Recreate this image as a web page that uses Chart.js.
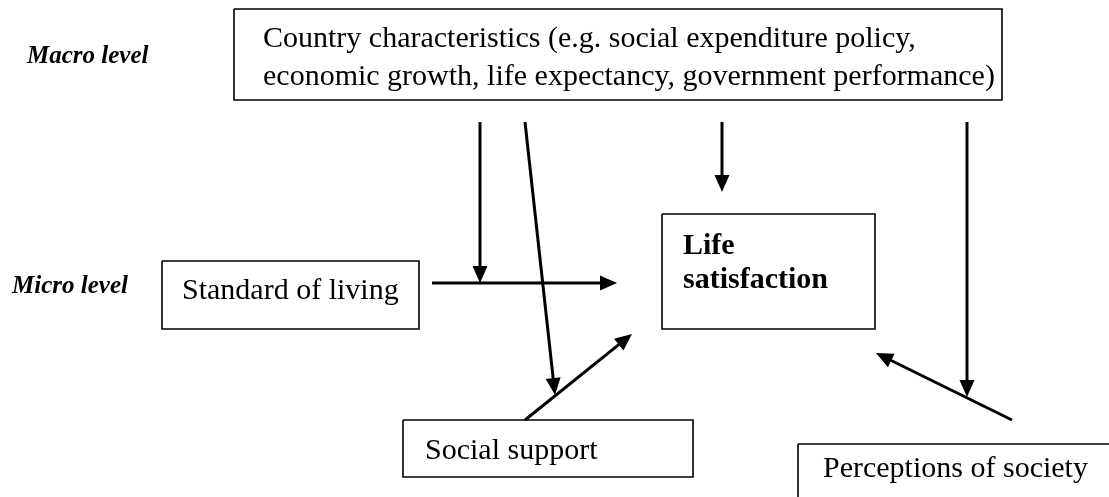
<!DOCTYPE html>
<html>
<head>
<meta charset="utf-8">
<script src="https://cdn.jsdelivr.net/npm/chart.js@4/dist/chart.umd.min.js"></script>
<style>
html,body{margin:0;padding:0;background:#fff;overflow:hidden}
#c{display:block}
</style>
</head>
<body>
<canvas id="c" width="1109" height="497"></canvas>
<script>
// ---- Diagram data (in diagram units = reference pixel grid) ----
const boxNames   = ["Country characteristics", "Standard of living", "Life satisfaction", "Social support", "Perceptions of society"];
const boxLeft    = [234, 162, 662, 403, 798];
const boxTop     = [9,   261, 214, 420, 444];
const boxRight   = [1002, 419, 875, 693, 1125];
const boxBottom  = [100, 329, 329, 477, 515];

const arrowNames = ["macro→interaction(SoL)", "macro→interaction(SS)", "macro→life", "macro→interaction(PoS)", "SoL→life", "SS→life", "PoS→life"];
const arrowX0 = [480, 525, 722, 967, 432, 525, 1012];
const arrowY0 = [122, 122, 122, 122, 283, 420, 420];
const arrowX1 = [480, 555, 722, 967, 617, 632, 876];
const arrowY1 = [283, 395, 192, 397, 283, 334, 353];

const textLines = [
  "Country characteristics (e.g. social expenditure policy,",
  "economic growth, life expectancy, government performance)",
  "Standard of living",
  "Life",
  "satisfaction",
  "Social support",
  "Perceptions of society",
  "Macro level",
  "Micro level"
];
const textX = [263, 263, 182, 683, 683, 425, 823, 27, 12];
const textY = [47, 85, 299, 254, 288, 459, 477, 63, 293];
const textStyle = ["n", "n", "n", "b", "b", "n", "n", "bi", "bi"];

// ---- Build datasets ----
const datasets = [];
boxNames.forEach((n, i) => {
  datasets.push({
    label: n,
    data: [
      {x: boxLeft[i], y: boxTop[i]},
      {x: boxRight[i], y: boxTop[i]},
      {x: boxRight[i], y: boxBottom[i]},
      {x: boxLeft[i], y: boxBottom[i]},
      {x: boxLeft[i], y: boxTop[i]}
    ],
    showLine: true, borderColor: "#000", borderWidth: 1.6,
    pointRadius: 0, fill: false, tension: 0, isBox: true
  });
});
arrowNames.forEach((n, i) => {
  datasets.push({
    label: n,
    data: [{x: arrowX0[i], y: arrowY0[i]}, {x: arrowX1[i], y: arrowY1[i]}],
    showLine: true, borderColor: "#000", borderWidth: 3,
    pointRadius: 0, fill: false, tension: 0, isArrow: true,
    borderCapStyle: "butt"
  });
});

const fonts = {
  n: "30px 'Liberation Serif', 'Times New Roman', serif",
  b: "bold 30px 'Liberation Serif', 'Times New Roman', serif",
  bi: "italic bold 25px 'Liberation Serif', 'Times New Roman', serif"
};

const HEAD_LEN = 17, HEAD_HALF = 7.5;

const arrowPlugin = {
  id: "arrowheads",
  afterDatasetsUpdate(chart) {
    chart.data.datasets.forEach((ds, di) => {
      if (!ds.isArrow) return;
      const meta = chart.getDatasetMeta(di);
      const pts = meta.data;
      const a = pts[pts.length - 2], b = pts[pts.length - 1];
      const ang = Math.atan2(b.y - a.y, b.x - a.x);
      meta._tip = {x: b.x, y: b.y, ang};
      // pull the line end back under the arrowhead
      b.x = b.x - (HEAD_LEN - 4) * Math.cos(ang);
      b.y = b.y - (HEAD_LEN - 4) * Math.sin(ang);
    });
  },
  afterDatasetsDraw(chart) {
    const ctx = chart.ctx;
    chart.data.datasets.forEach((ds, di) => {
      if (!ds.isArrow) return;
      const t = chart.getDatasetMeta(di)._tip;
      if (!t) return;
      const c = Math.cos(t.ang), s = Math.sin(t.ang);
      ctx.save();
      ctx.fillStyle = "#000";
      ctx.beginPath();
      ctx.moveTo(t.x, t.y);
      ctx.lineTo(t.x - HEAD_LEN * c + HEAD_HALF * s, t.y - HEAD_LEN * s - HEAD_HALF * c);
      ctx.lineTo(t.x - HEAD_LEN * c - HEAD_HALF * s, t.y - HEAD_LEN * s + HEAD_HALF * c);
      ctx.closePath();
      ctx.fill();
      ctx.restore();
    });
  }
};

const textPlugin = {
  id: "labels",
  afterDraw(chart) {
    const ctx = chart.ctx;
    const xs = chart.scales.x, ys = chart.scales.y;
    ctx.save();
    ctx.fillStyle = "#000";
    ctx.textBaseline = "alphabetic";
    ctx.textAlign = "left";
    textLines.forEach((t, i) => {
      ctx.font = fonts[textStyle[i]];
      ctx.fillText(t, xs.getPixelForValue(textX[i]), ys.getPixelForValue(textY[i]));
    });
    ctx.restore();
  }
};

new Chart(document.getElementById("c"), {
  type: "scatter",
  data: { datasets },
  options: {
    responsive: false,
    animation: false,
    events: [],
    layout: { padding: 0 },
    plugins: { legend: { display: false }, tooltip: { enabled: false }, title: { display: false } },
    scales: {
      x: { type: "linear", min: 0, max: 1109, display: false },
      y: { type: "linear", min: 0, max: 497, reverse: true, display: false }
    }
  },
  plugins: [arrowPlugin, textPlugin]
});
</script>
</body>
</html>
